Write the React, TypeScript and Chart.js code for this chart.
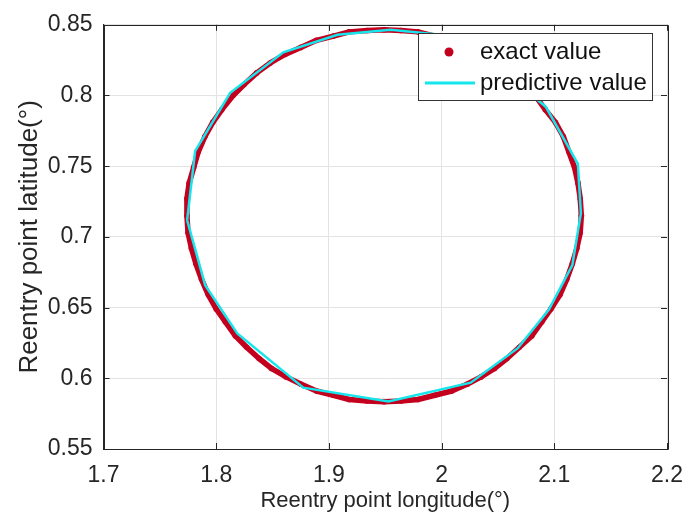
import React, { useEffect, useRef } from 'react';
import { Chart, registerables } from 'chart.js';
Chart.register(...registerables);

// exact value (red dots), read along the ring
const exactLon = [2.124, 2.123, 2.121, 2.118, 2.113, 2.108, 2.101, 2.092, 2.083, 2.073, 2.061, 2.049, 2.036, 2.023, 2.009, 1.994, 1.979, 1.964,
  1.949, 1.934, 1.918, 1.904, 1.889, 1.875, 1.861, 1.848, 1.836, 1.825, 1.815, 1.805, 1.797, 1.790, 1.784, 1.780, 1.776, 1.774,
  1.774, 1.775, 1.778, 1.782, 1.787, 1.793, 1.800, 1.808, 1.817, 1.827, 1.838, 1.849, 1.862, 1.875, 1.889, 1.904, 1.918, 1.934,
  1.949, 1.964, 1.979, 1.994, 2.009, 2.023, 2.035, 2.047, 2.058, 2.069, 2.080, 2.089, 2.097, 2.105, 2.111, 2.116, 2.120, 2.123, 2.124];
const exactLat = [0.715, 0.727, 0.738, 0.749, 0.760, 0.771, 0.781, 0.790, 0.800, 0.808, 0.816, 0.823, 0.829, 0.834, 0.839, 0.842, 0.845, 0.846,
  0.8465, 0.846, 0.845, 0.842, 0.839, 0.834, 0.829, 0.823, 0.816, 0.808, 0.800, 0.790, 0.781, 0.771, 0.760, 0.749, 0.738, 0.727,
  0.715, 0.703, 0.692, 0.681, 0.670, 0.659, 0.649, 0.640, 0.630, 0.622, 0.614, 0.607, 0.601, 0.596, 0.591, 0.588, 0.585, 0.584,
  0.5835, 0.584, 0.585, 0.588, 0.591, 0.596, 0.601, 0.607, 0.614, 0.622, 0.630, 0.640, 0.649, 0.659, 0.670, 0.681, 0.692, 0.703, 0.715];

// predictive value (cyan polyline vertices)
const predLon = [1.7742, 1.7813, 1.8124, 1.8596, 1.9076, 1.9547, 2.008, 2.062, 2.0924, 2.1209, 2.1236, 2.1160, 2.0951, 2.0676, 2.0258, 1.9529, 1.8773, 1.8187, 1.7902, 1.7742];
const predLat = [0.7119, 0.7607, 0.8019, 0.8305, 0.8430, 0.8465, 0.8423, 0.812, 0.7921, 0.7517, 0.7168, 0.6800, 0.6485, 0.6213, 0.5969, 0.5836, 0.5934, 0.6317, 0.6659, 0.7119];

const xTicks = [1.7, 1.8, 1.9, 2.0, 2.1, 2.2];
const yTicks = [0.55, 0.6, 0.65, 0.7, 0.75, 0.8, 0.85];
const seriesNames = ['exact value', 'predictive value'];
const xTitle = 'Reentry point longitude(°)';
const yTitle = 'Reentry point latitude(°)';

const RED = '#C4001F';
const CYAN = '#14E6EC';
const AXIS = '#262626';
const FONT = "'Liberation Sans', Arial, sans-serif";

const fmt = (v: number) => String(+Number(v).toFixed(2));

export default function App() {
  const ref = useRef<HTMLCanvasElement | null>(null);
  useEffect(() => {
    document.body.style.margin = '0';
    const canvas = ref.current!;
    const boxPlugin = {
      id: 'boxPlugin',
      afterDraw(chart: any) {
        const { ctx, chartArea: a, scales } = chart;
        ctx.save();
        ctx.strokeStyle = AXIS;
        ctx.lineWidth = 1;
        ctx.beginPath();
        ctx.rect(Math.round(a.left) + 0.5, Math.round(a.top) + 0.5, Math.round(a.right - a.left), Math.round(a.bottom - a.top));
        ctx.stroke();
        // inward ticks
        ctx.beginPath();
        for (const v of xTicks) {
          const x = Math.round(scales.x.getPixelForValue(v)) + 0.5;
          ctx.moveTo(x, a.bottom); ctx.lineTo(x, a.bottom - 6);
          ctx.moveTo(x, a.top); ctx.lineTo(x, a.top + 6);
        }
        for (const v of yTicks) {
          const y = Math.round(scales.y.getPixelForValue(v)) + 0.5;
          ctx.moveTo(a.left, y); ctx.lineTo(a.left + 6, y);
          ctx.moveTo(a.right, y); ctx.lineTo(a.right - 6, y);
        }
        ctx.stroke();
        // legend
        const lx = 418, ly = 33, lw = 234, lh = 67;
        ctx.fillStyle = '#ffffff';
        ctx.fillRect(lx, ly, lw, lh);
        ctx.strokeStyle = '#333333';
        ctx.strokeRect(lx + 0.5, ly + 0.5, lw, lh);
        ctx.fillStyle = RED;
        ctx.beginPath();
        ctx.arc(449, 52, 4.5, 0, Math.PI * 2);
        ctx.fill();
        ctx.strokeStyle = CYAN;
        ctx.lineWidth = 3;
        ctx.beginPath();
        ctx.moveTo(425, 83); ctx.lineTo(475, 83);
        ctx.stroke();
        ctx.fillStyle = '#111111';
        ctx.font = `24px ${FONT}`;
        ctx.textBaseline = 'middle';
        ctx.textAlign = 'left';
        ctx.fillText(seriesNames[0], 480, 52);
        ctx.fillText(seriesNames[1], 480, 83);
        ctx.restore();
      },
    };
    const chart = new Chart(canvas, {
      type: 'scatter',
      data: {
        datasets: [
          {
            label: seriesNames[1],
            data: predLon.map((x, i) => ({ x, y: predLat[i] })),
            showLine: true,
            borderColor: CYAN,
            backgroundColor: CYAN,
            borderWidth: 2.5,
            pointRadius: 0,
            tension: 0,
          },
          {
            label: seriesNames[0],
            data: exactLon.map((x, i) => ({ x, y: exactLat[i] })),
            showLine: true,
            borderColor: RED,
            backgroundColor: RED,
            borderWidth: 5.5,
            borderJoinStyle: 'round',
            borderCapStyle: 'round',
            pointRadius: 2.8,
            pointBorderWidth: 0,
            tension: 0,
          },
        ],
      },
      options: {
        responsive: false,
        animation: false,
        layout: { padding: { left: 0, right: 17, top: 8, bottom: 0 } },
        plugins: { legend: { display: false }, tooltip: { enabled: false } },
        scales: {
          x: {
            type: 'linear',
            min: 1.7,
            max: 2.2,
            afterBuildTicks: (s: any) => { s.ticks = xTicks.map((v) => ({ value: v })); },
            afterFit: (s: any) => { s.height = 75; s.paddingRight = 0; s.paddingLeft = 0; },
            ticks: { callback: (v: any) => fmt(v), color: AXIS, font: { family: FONT, size: 23 }, padding: 13, maxRotation: 0 },
            grid: { color: '#e3e3e3', drawTicks: false },
            border: { display: true, color: AXIS },
            title: { display: true, text: xTitle, color: AXIS, font: { family: FONT, size: 22 }, padding: { top: 0, bottom: 10 } },
          },
          y: {
            type: 'linear',
            min: 0.55,
            max: 0.85,
            afterBuildTicks: (s: any) => { s.ticks = yTicks.map((v) => ({ value: v })); },
            afterFit: (s: any) => { s.width = 103.5; },
            ticks: { callback: (v: any) => fmt(v), color: AXIS, font: { family: FONT, size: 23 }, padding: 11 },
            grid: { color: '#e3e3e3', drawTicks: false },
            border: { display: true, color: AXIS },
            title: { display: true, text: yTitle, color: AXIS, font: { family: FONT, size: 26 }, padding: { top: 14, bottom: 0 } },
          },
        },
      },
      plugins: [boxPlugin],
    } as any);
    return () => chart.destroy();
  }, []);
  return (
    <div style={{ width: 684, height: 524, background: '#fff' }}>
      <canvas ref={ref} width={684} height={524} style={{ display: 'block' }} />
    </div>
  );
}
